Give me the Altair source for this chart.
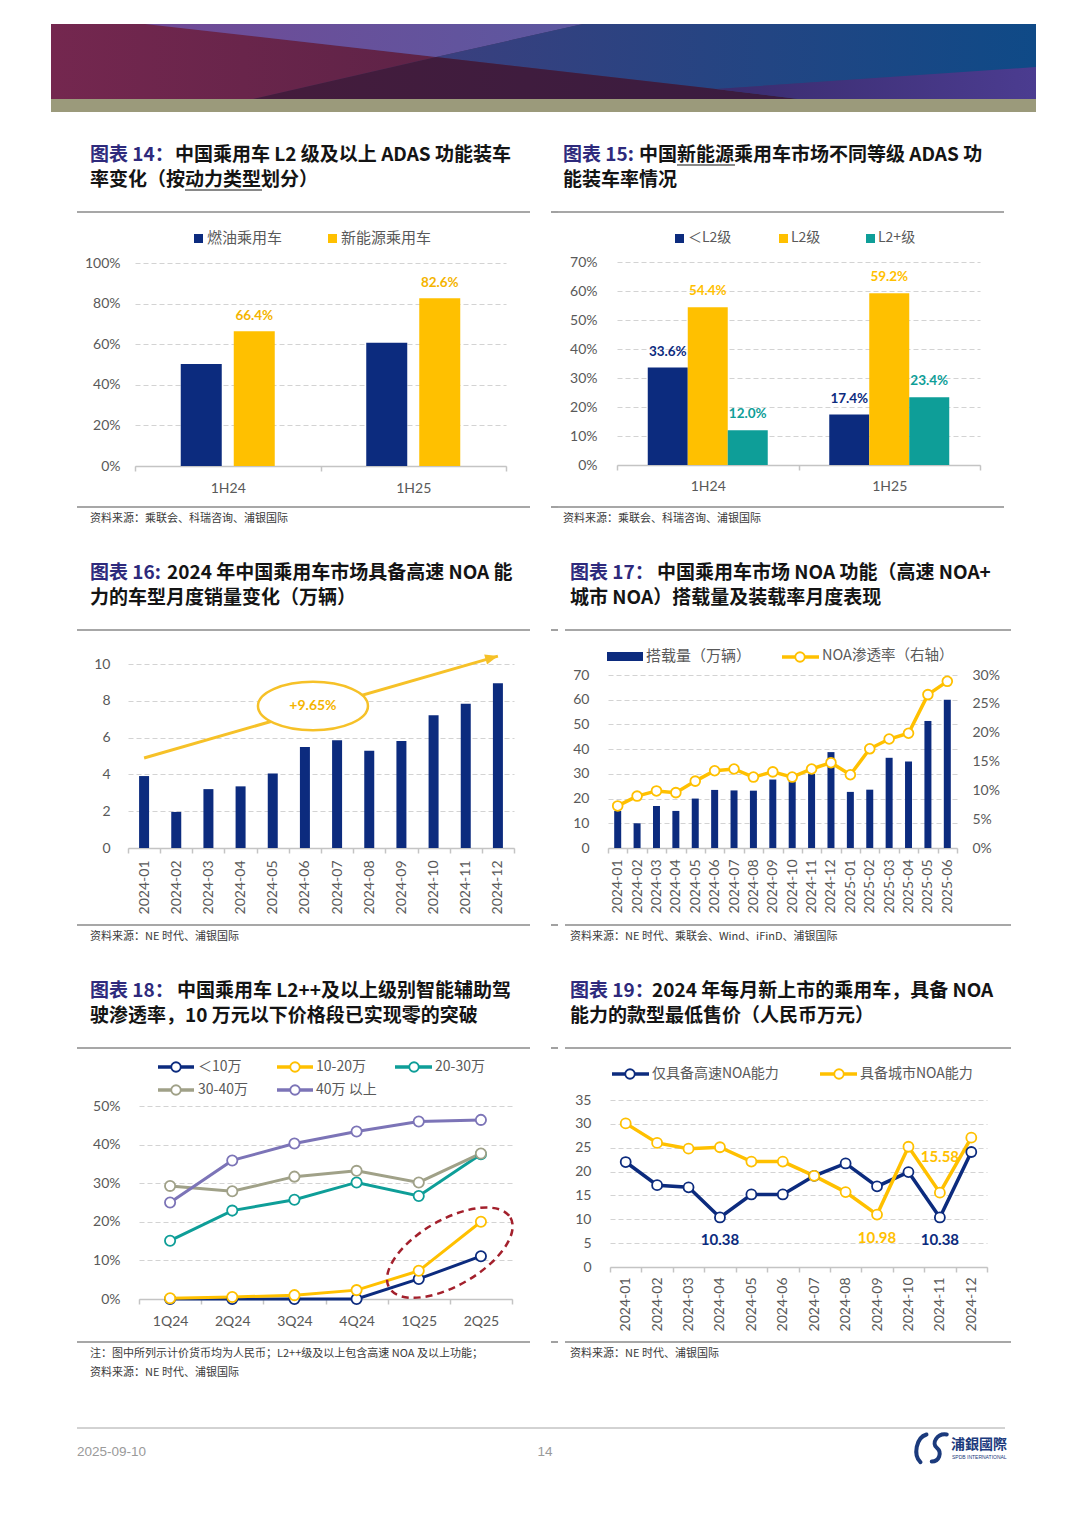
import altair as alt
import pandas as pd

# ------------------------------------------------------------------ data
halves = ["1H24", "1H25"]
powertrain_series = ["燃油乘用车", "新能源乘用车"]
ice_adas_rate = [0.502, 0.607]
nev_adas_rate = [0.664, 0.826]

adas_series = ["＜L2级", "L2级", "L2+级"]
below_l2_rate = [0.336, 0.174]
l2_rate = [0.544, 0.592]
l2plus_rate = [0.120, 0.234]

months_2024 = ["2024-01", "2024-02", "2024-03", "2024-04", "2024-05", "2024-06",
               "2024-07", "2024-08", "2024-09", "2024-10", "2024-11", "2024-12"]
highway_noa_sales = [3.91, 1.96, 3.20, 3.35, 4.05, 5.49, 5.85, 5.29, 5.82, 7.22, 7.84, 8.96]
trend_months = ["2024-01", "2024-12"]
trend_values = [4.89, 10.43]
growth_month = ["2024-06"]
growth_value = [7.72]
growth_label = ["+9.65%"]

months_2025h1 = ["2025-01", "2025-02", "2025-03", "2025-04", "2025-05", "2025-06"]
noa_months = months_2024 + months_2025h1
noa_volume = [15.0, 10.0, 17.0, 15.0, 20.0, 23.5, 23.3, 23.2, 27.7, 27.0, 30.0, 38.8,
              22.7, 23.6, 36.5, 35.0, 51.4, 60.0]
noa_rate = [0.073, 0.090, 0.099, 0.096, 0.116, 0.134, 0.137, 0.123, 0.132, 0.123, 0.137, 0.148,
            0.127, 0.172, 0.189, 0.199, 0.266, 0.289]

quarters = ["1Q24", "2Q24", "3Q24", "4Q24", "1Q25", "2Q25"]
price_bands = ["＜10万", "10-20万", "20-30万", "30-40万", "40万 以上"]
pen_under_10 = [0.0, 0.0, 0.0, 0.0, 0.052, 0.111]
pen_10_20 = [0.002, 0.005, 0.010, 0.023, 0.073, 0.200]
pen_20_30 = [0.151, 0.229, 0.257, 0.302, 0.267, 0.375]
pen_30_40 = [0.293, 0.279, 0.317, 0.332, 0.302, 0.377]
pen_over_40 = [0.250, 0.359, 0.403, 0.434, 0.460, 0.464]
highlight_quarter = ["2Q25"]
highlight_value = [0.12]

noa_series = ["仅具备高速NOA能力", "具备城市NOA能力"]
highway_only_price = [22.0, 17.15, 16.7, 10.38, 15.2, 15.2, 19.1, 21.7, 16.9, 19.9, 10.38, 24.1]
city_noa_price = [30.1, 26.0, 24.8, 25.1, 22.1, 22.1, 19.1, 15.7, 10.98, 25.2, 15.58, 27.1]
labels_below = [("仅具备高速NOA能力", "2024-04"), ("仅具备高速NOA能力", "2024-11"),
                ("具备城市NOA能力", "2024-09")]
labels_above = [("具备城市NOA能力", "2024-11")]

# ------------------------------------------------------------------ style
CN = "Noto Sans CJK SC"
NUM = "Lato, Noto Sans CJK SC"
NAVY = "#0C2B7E"
GOLD = "#FFC000"
GOLD_LINE = "#F6C128"
GOLD_TXT = "#F4B400"
TEAL = "#0E9E98"
OLIVE = "#A0A188"
PURPLE = "#7C74B7"
RED = "#A3202C"
GREY = "#595959"
GRID = "#D3D3D3"
AXIS = "#C4C4C4"
INDIGO = "#2E2A7C"
INK = "#141414"
SEP = "#8A8A8A"

X_SHIFT = -7                 # the page centres the 1048px-wide view
TOTAL_W = 1048
LEFT_W = 543                 # left column view width (covers page x 15..558)
RIGHT_START = 558            # page x where the right column view begins
RIGHT_ORIGIN = RIGHT_START + X_SHIFT
RIGHT_W = TOTAL_W - LEFT_W


def one():
    return alt.Chart(alt.Data(values=[{"k": 0}]))


def ellipse_path(ry):
    k = 0.5523
    return (f"M 1 0 C 1 {k*ry:.4f} {k:.4f} {ry} 0 {ry} "
            f"C {-k:.4f} {ry} -1 {k*ry:.4f} -1 0 "
            f"C -1 {-k*ry:.4f} {-k:.4f} {-ry} 0 {-ry} "
            f"C {k:.4f} {-ry} 1 {-k*ry:.4f} 1 0 Z")


ARROW = "M 0 0 L -1.6 -0.65 L -1.6 0.65 Z"


class Frame:
    """A view whose plot area covers its page box; the data area sits inside it."""

    def __init__(self, ox, y0, W, H, area=None):
        self.x0, self.y0, self.W, self.H = ox, y0, W, H
        self.area = area

    def px(self, x):
        return x + X_SHIFT - self.x0

    def py(self, y):
        return y - self.y0

    def xr(self):
        a = self.area
        return [self.px(a[0]), self.px(a[2])]

    def yr(self):
        a = self.area
        return [self.py(a[3]), self.py(a[1])]

    def off_left(self):
        return -self.px(self.area[0])

    def off_right(self):
        return -(self.W - self.px(self.area[2]))

    def off_bottom(self):
        return -(self.H - self.py(self.area[3]))

    def box_layer(self):
        return one().mark_rect(color="white", opacity=0).encode(
            x=alt.value(0), x2=alt.value(self.W), y=alt.value(0), y2=alt.value(self.H))

    def text(self, s, x, y, size=14, color=GREY, weight="normal", align="left", font=CN):
        return one().mark_text(text=s, align=align, baseline="middle", font=font,
                               fontSize=size, fontWeight=weight, color=color).encode(
            x=alt.value(self.px(x)), y=alt.value(self.py(y)))

    def hline(self, x1, x2, y, color, width):
        return one().mark_rule(color=color, strokeWidth=width).encode(
            x=alt.value(self.px(x1)), x2=alt.value(self.px(x2)), y=alt.value(self.py(y)))

    def swatch(self, x1, x2, y1, y2, color, opacity=1):
        return one().mark_rect(color=color, opacity=opacity).encode(
            x=alt.value(self.px(x1)), x2=alt.value(self.px(x2)),
            y=alt.value(self.py(y1)), y2=alt.value(self.py(y2)))

    def bar_line(self, x1, x2, y, color, width):
        return self.swatch(x1, x2, y - width / 2, y + width / 2, color)

    def marker(self, x, y, color, size=100):
        return one().mark_point(shape="circle", size=size, filled=True, fill="white",
                                stroke=color, strokeWidth=1.8, opacity=1).encode(
            x=alt.value(self.px(x)), y=alt.value(self.py(y)))

    def polygon(self, pts, fill, cx, cy, scale=50.0):
        path = "M " + " L ".join(f"{(X - cx) / scale:.4f} {(Y - cy) / scale:.4f}"
                                 for X, Y in pts) + " Z"
        return one().mark_point(shape=path, size=(2 * scale) ** 2, filled=True, fill=fill,
                                strokeWidth=0, opacity=1).encode(
            x=alt.value(self.px(cx)), y=alt.value(self.py(cy)))

    def line_key(self, x1, x2, cx, y, color):
        return [self.hline(x1, x2, y, color, 3.5), self.marker(cx, y, color, 90)]


def left_frame(y0, y1, area):
    return Frame(8, y0, LEFT_W, y1 - y0, area)


def right_frame(y0, y1, area):
    return Frame(RIGHT_ORIGIN, y0, RIGHT_W, y1 - y0, area)


def panel_frame(f, col, top_y, bottom_y, title_y, tag, rest, rest_x, line2, notes, underline=None):
    left = 90 if col == 0 else 563
    if col == 0:
        seps = [(77, 530, top_y), (77, 530, bottom_y),
                # the first pixels of the right-hand separators live in the left view
                (551, RIGHT_START, top_y), (551, RIGHT_START, bottom_y)]
    else:
        seps = [(RIGHT_START, 1004, top_y), (RIGHT_START, 1004, bottom_y)]
    layers = [f.box_layer()]
    layers += [f.bar_line(a, b, y, SEP, 1.6) for a, b, y in seps]
    layers += [f.text(tag, left, title_y, 19, INDIGO, "bold"),
               f.text(rest, rest_x, title_y, 19, INK, "bold"),
               f.text(line2, left, title_y + 25, 19, INK, "bold")]
    for i, note in enumerate(notes):
        layers.append(f.text(note, left, bottom_y + 12 + 18.5 * i, 11, "#3A3A3A"))
    if underline:
        layers.append(f.bar_line(underline[0], underline[1], underline[2], INK, 1.2))
    return layers


def x_axis(f, angle=0, pad=10):
    return alt.Axis(title=None, labelAngle=angle, labelPadding=pad, labelFont=NUM,
                    labelFontSize=14, labelColor=GREY, domainColor=AXIS, domainWidth=1.5,
                    tickColor=AXIS, tickWidth=1.5, tickSize=5, tickBand="extent",
                    grid=False, labelOverlap=False, offset=f.off_bottom())


def y_axis(f, values, fmt, pad, orient="left", grid=True):
    off = f.off_left() if orient == "left" else f.off_right()
    return alt.Axis(title=None, values=values, format=fmt, orient=orient, labelPadding=pad,
                    labelFont=NUM, labelFontSize=14, labelColor=GREY, domain=False,
                    ticks=False, grid=grid, gridColor=GRID, gridDash=[5, 3], gridWidth=1,
                    offset=off)


def band(f, domain):
    return alt.Scale(type="band", domain=domain, range=f.xr(), paddingInner=0, paddingOuter=0)


def lin(f, domain):
    return alt.Scale(domain=domain, range=f.yr(), nice=False)


def grad(c1, c2):
    return {"gradient": "linear", "x1": 0, "x2": 1, "y1": 0, "y2": 0,
            "stops": [{"offset": 0, "color": c1}, {"offset": 1, "color": c2}]}


# ------------------------------------------------------------------ header
fh = Frame(8, 8, TOTAL_W, 122)
HCX, HCY = 540, 69
header = alt.layer(
    fh.box_layer(),
    fh.swatch(51, 1036, 24, 99, grad("#70264F", "#15477F")),
    fh.polygon([(51, 24), (145, 24), (436, 57), (253, 99), (51, 99)],
               grad("#74274F", "#5E2347"), HCX, HCY),
    fh.polygon([(145, 24), (583, 24), (436, 57)], grad("#714A96", "#5C58A0"), HCX, HCY),
    fh.polygon([(583, 24), (1036, 24), (1036, 67), (716, 89), (436, 57)],
               grad("#3A3F7E", "#0F4A87"), HCX, HCY),
    fh.polygon([(436, 57), (716, 89), (799, 99), (253, 99)], grad("#441C3C", "#3A1C40"), HCX, HCY),
    fh.polygon([(716, 89), (1036, 67), (1036, 99), (799, 99)], grad("#3A2C6E", "#4B3C90"), HCX, HCY),
    fh.swatch(51, 1036, 99, 112, "#9B9A7B"),
).properties(width=fh.W, height=fh.H)

# ------------------------------------------------------------------ 图表14
f14 = left_frame(130, 545, (135, 263, 506, 466))
df14 = pd.DataFrame({
    "period": halves * 2,
    "series": [powertrain_series[0]] * 2 + [powertrain_series[1]] * 2,
    "value": ice_adas_rate + nev_adas_rate,
})
x14 = alt.X("period:N", scale=band(f14, halves), axis=x_axis(f14, pad=10))
xo14 = alt.XOffset("series:N", scale=alt.Scale(domain=powertrain_series,
                                               paddingInner=0.2264, paddingOuter=0.863))
y14 = alt.Y("value:Q", scale=lin(f14, [0, 1]),
            axis=y_axis(f14, [0, 0.2, 0.4, 0.6, 0.8, 1.0], ".0%", 15))
bars14 = alt.Chart(df14).mark_bar().encode(
    x=x14, xOffset=xo14, y=y14,
    color=alt.Color("series:N", scale=alt.Scale(domain=powertrain_series, range=[NAVY, GOLD]),
                    legend=None))
lab14 = alt.Chart(df14[df14.series == powertrain_series[1]]).mark_text(
    dy=-11, baseline="alphabetic", font=NUM, fontSize=13.5, fontWeight="bold", color=GOLD_TXT
).encode(x=x14, xOffset=xo14, y=y14, text=alt.Text("value:Q", format=".1%"))
legend14 = [f14.swatch(194, 203, 234, 243, NAVY), f14.text(powertrain_series[0], 207, 238, 15),
            f14.swatch(328, 337, 234, 243, GOLD), f14.text(powertrain_series[1], 341, 238, 15)]
p14 = alt.layer(
    *panel_frame(f14, 0, 212, 507, 155, "图表 14：", "中国乘用车 L2 级及以上 ADAS 功能装车", 175,
                 "率变化（按动力类型划分）", ["资料来源：乘联会、科瑞咨询、浦银国际"],
                 underline=(185, 262, 190)),
    bars14, lab14, *legend14
).properties(width=f14.W, height=f14.H)

# ------------------------------------------------------------------ 图表15
f15 = right_frame(130, 545, (617, 262, 980, 465))
df15 = pd.DataFrame({
    "period": halves * 3,
    "series": [s for s in adas_series for _ in halves],
    "value": below_l2_rate + l2_rate + l2plus_rate,
})
x15 = alt.X("period:N", scale=band(f15, halves), axis=x_axis(f15, pad=9))
xo15 = alt.XOffset("series:N", scale=alt.Scale(domain=adas_series, paddingInner=0,
                                               paddingOuter=0.769))
y15 = alt.Y("value:Q", scale=lin(f15, [0, 0.7]),
            axis=y_axis(f15, [0, 0.1, 0.2, 0.3, 0.4, 0.5, 0.6, 0.7], ".0%", 20))
c15 = alt.Color("series:N", scale=alt.Scale(domain=adas_series, range=[NAVY, GOLD, TEAL]),
                legend=None)
bars15 = alt.Chart(df15).mark_bar().encode(x=x15, xOffset=xo15, y=y15, color=c15)
lab15 = alt.Chart(df15).mark_text(dy=-12, baseline="alphabetic", font=NUM, fontSize=13.5,
                                  fontWeight="bold").encode(
    x=x15, xOffset=xo15, y=y15, color=c15, text=alt.Text("value:Q", format=".1%"))
legend15 = [f15.swatch(675, 684, 234, 243, NAVY), f15.text(adas_series[0], 688, 238, 14),
            f15.swatch(779, 788, 234, 243, GOLD), f15.text(adas_series[1], 791, 238, 14),
            f15.swatch(866, 875, 234, 243, TEAL), f15.text(adas_series[2], 878, 238, 14)]
p15 = alt.layer(
    *panel_frame(f15, 1, 212, 507, 155, "图表 15:", "中国新能源乘用车市场不同等级 ADAS 功", 639,
                 "能装车率情况", ["资料来源：乘联会、科瑞咨询、浦银国际"],
                 underline=(677, 735, 165)),
    bars15, lab15, *legend15
).properties(width=f15.W, height=f15.H)

# ------------------------------------------------------------------ 图表16
f16 = left_frame(545, 962, (128, 664, 514, 848))
df16 = pd.DataFrame({"month": months_2024, "value": highway_noa_sales})
trend16 = pd.DataFrame({"month": trend_months, "value": trend_values})
growth16 = pd.DataFrame({"month": growth_month, "value": growth_value, "label": growth_label})
ax16x = x_axis(f16, angle=270, pad=7)


def x16(**kw):
    return alt.X("month:N", scale=band(f16, months_2024), axis=ax16x, **kw)


y16 = alt.Y("value:Q", scale=lin(f16, [0, 10]), axis=y_axis(f16, [0, 2, 4, 6, 8, 10], "d", 18))
bars16 = alt.Chart(df16).mark_bar(size=10, color=NAVY).encode(x=x16(), y=y16)
trend_line16 = alt.Chart(trend16).mark_line(color=GOLD_LINE, strokeWidth=3).encode(x=x16(), y=y16)
arrow16 = alt.Chart(trend16.tail(1)).mark_point(
    shape=ARROW, size=256, angle=344, filled=True, fill=GOLD_LINE, strokeWidth=0, opacity=1
).encode(x=x16(), y=y16)
ell16 = alt.Chart(growth16).mark_point(
    shape=ellipse_path(0.44), size=12100, filled=True, fill="white", stroke=GOLD_LINE,
    strokeWidth=2.5, opacity=1).encode(x=x16(bandPosition=0.75), y=y16)
txt16 = alt.Chart(growth16).mark_text(font=NUM, fontSize=14, fontWeight="bold",
                                      color=GOLD_TXT).encode(
    x=x16(bandPosition=0.75), y=y16, text="label:N")
p16 = alt.layer(
    *panel_frame(f16, 0, 630, 925, 573, "图表 16:", "2024 年中国乘用车市场具备高速 NOA 能", 167,
                 "力的车型月度销量变化（万辆）", ["资料来源：NE 时代、浦银国际"]),
    bars16, trend_line16, arrow16, ell16, txt16
).properties(width=f16.W, height=f16.H)

# ------------------------------------------------------------------ 图表17
f17 = right_frame(545, 962, (601, 675, 950, 848))
df17 = pd.DataFrame({"month": noa_months, "volume": noa_volume, "rate": noa_rate,
                     "idx": list(range(len(noa_months)))})
x17 = alt.X("month:N", scale=band(f17, noa_months), axis=x_axis(f17, angle=270, pad=6))
bars17 = alt.Chart(df17).mark_bar(size=7, color=NAVY).encode(
    x=x17, y=alt.Y("volume:Q", scale=lin(f17, [0, 70]),
                   axis=y_axis(f17, list(range(0, 71, 10)), "d", 19)))
line17 = alt.Chart(df17).mark_line(
    color=GOLD, strokeWidth=3.5,
    point=alt.OverlayMarkDef(filled=False, fill="white", size=95, strokeWidth=1.8,
                             color=GOLD, opacity=1)
).encode(x=x17, y=alt.Y("rate:Q", scale=lin(f17, [0, 0.3]),
                        axis=y_axis(f17, [0, 0.05, 0.1, 0.15, 0.2, 0.25, 0.3], ".0%", 15,
                                    orient="right", grid=False)),
         order="idx:Q")
legend17 = [f17.swatch(600, 636, 652, 661, NAVY), f17.text("搭载量（万辆）", 639, 656, 15),
            *f17.line_key(775, 812, 793, 657, GOLD), f17.text("NOA渗透率（右轴）", 815, 656, 14.5)]
p17 = alt.layer(
    *panel_frame(f17, 1, 630, 925, 573, "图表 17：", "中国乘用车市场 NOA 功能（高速 NOA+", 650,
                 "城市 NOA）搭载量及装载率月度表现",
                 ["资料来源：NE 时代、乘联会、Wind、iFinD、浦银国际"]),
    *legend17, bars17, line17
).resolve_scale(y="independent").properties(width=f17.W, height=f17.H)

# ------------------------------------------------------------------ 图表18
f18 = left_frame(962, 1400, (139, 1106, 512, 1299))
pen_series = [pen_under_10, pen_10_20, pen_20_30, pen_30_40, pen_over_40]
df18 = pd.DataFrame({
    "quarter": quarters * len(price_bands),
    "band": [b for b in price_bands for _ in quarters],
    "value": [v for s in pen_series for v in s],
    "qi": list(range(len(quarters))) * len(price_bands),
})
hl18 = pd.DataFrame({"quarter": highlight_quarter, "value": highlight_value})
ax18x = x_axis(f18, pad=10)
y18 = alt.Y("value:Q", scale=lin(f18, [0, 0.5]),
            axis=y_axis(f18, [0, 0.1, 0.2, 0.3, 0.4, 0.5], ".0%", 19))
band_colors = [NAVY, GOLD, TEAL, OLIVE, PURPLE]
line18 = alt.Chart(df18).mark_line(
    strokeWidth=3,
    point=alt.OverlayMarkDef(filled=False, fill="white", size=105, strokeWidth=1.8, opacity=1)
).encode(
    x=alt.X("quarter:N", scale=band(f18, quarters), axis=ax18x), y=y18,
    color=alt.Color("band:N", scale=alt.Scale(domain=price_bands, range=band_colors), legend=None),
    order="qi:Q")
circle18 = alt.Chart(hl18).mark_point(
    shape=ellipse_path(0.47), size=19600, angle=330, filled=False, color=RED, stroke=RED,
    strokeWidth=2.5, strokeDash=[7, 5], opacity=1
).encode(x=alt.X("quarter:N", scale=band(f18, quarters), axis=ax18x, bandPosition=0), y=y18)
legend18 = []
for (x1, x2, cx, tx, yy), lab, col in zip(
        [(158, 194, 176, 198, 1067), (277, 313, 295, 316, 1067), (395, 432, 414, 435, 1067),
         (158, 194, 176, 198, 1090), (277, 313, 295, 316, 1090)], price_bands, band_colors):
    legend18 += f18.line_key(x1, x2, cx, yy, col)
    legend18.append(f18.text(lab, tx, yy, 14))
p18 = alt.layer(
    *panel_frame(f18, 0, 1048, 1342, 991, "图表 18：", "中国乘用车 L2++及以上级别智能辅助驾", 177,
                 "驶渗透率，10 万元以下价格段已实现零的突破",
                 ["注：图中所列示计价货币均为人民币；L2++级及以上包含高速 NOA 及以上功能；",
                  "资料来源：NE 时代、浦银国际"]),
    *legend18, line18, circle18
).properties(width=f18.W, height=f18.H)

# ------------------------------------------------------------------ 图表19
f19 = right_frame(962, 1400, (603, 1100, 980, 1267))
df19 = pd.DataFrame({
    "month": months_2024 * 2,
    "series": [s for s in noa_series for _ in months_2024],
    "value": highway_only_price + city_noa_price,
    "idx": list(range(len(months_2024))) * 2,
})
below19 = df19[[(s, m) in labels_below for s, m in zip(df19.series, df19.month)]]
above19 = df19[[(s, m) in labels_above for s, m in zip(df19.series, df19.month)]]
x19 = alt.X("month:N", scale=band(f19, months_2024), axis=x_axis(f19, angle=270, pad=5))
y19 = alt.Y("value:Q", scale=lin(f19, [0, 35]),
            axis=y_axis(f19, list(range(0, 36, 5)), "d", 19))
c19 = alt.Color("series:N", scale=alt.Scale(domain=noa_series, range=[NAVY, GOLD]), legend=None)
line19 = alt.Chart(df19).mark_line(
    strokeWidth=3.5,
    point=alt.OverlayMarkDef(filled=False, fill="white", size=100, strokeWidth=1.8, opacity=1)
).encode(x=x19, y=y19, color=c19, order="idx:Q")
lab19a = alt.Chart(below19).mark_text(dy=23, font=NUM, fontSize=15, fontWeight="bold").encode(
    x=x19, y=y19, color=c19, text=alt.Text("value:Q", format=".2f"))
lab19b = alt.Chart(above19).mark_text(dy=-36, font=NUM, fontSize=15, fontWeight="bold").encode(
    x=x19, y=y19, color=c19, text=alt.Text("value:Q", format=".2f"))
legend19 = [*f19.line_key(605, 642, 623, 1074, NAVY), f19.text(noa_series[0], 645, 1074, 14),
            *f19.line_key(813, 850, 832, 1074, GOLD), f19.text(noa_series[1], 853, 1074, 14)]
p19 = alt.layer(
    *panel_frame(f19, 1, 1048, 1342, 991, "图表 19：", "2024 年每月新上市的乘用车，具备 NOA", 645,
                 "能力的款型最低售价（人民币万元）", ["资料来源：NE 时代、浦银国际"]),
    *legend19, line19, lab19a, lab19b
).properties(width=f19.W, height=f19.H)

# ------------------------------------------------------------------ footer
ff = Frame(8, 1400, TOTAL_W, 90)
logo_left = "M -0.1 -0.9 C -0.8 -0.7 -1.0 0.5 -0.5 0.95"
logo_right = "M 0.85 -0.9 C 0.2 -1.0 -0.2 -0.3 0.2 0.0 C 0.55 0.3 0.35 0.9 -0.15 0.9"
footer = alt.layer(
    ff.box_layer(),
    ff.hline(77, 1005, 1428, "#A6A6A6", 1),
    ff.text("2025-09-10", 77, 1452, 13.5, "#9A9A9A", font="Liberation Sans"),
    ff.text("14", 545, 1452, 13.5, "#9A9A9A", align="center", font="Liberation Sans"),
    one().mark_point(shape=logo_left, size=900, filled=False, color="#1B3A7C", stroke="#1B3A7C",
                     strokeWidth=4, strokeCap="round", opacity=1).encode(
        x=alt.value(ff.px(928)), y=alt.value(ff.py(1448))),
    one().mark_point(shape=logo_right, size=900, filled=False, color="#1B3A7C", stroke="#1B3A7C",
                     strokeWidth=4, strokeCap="round", opacity=1).encode(
        x=alt.value(ff.px(934)), y=alt.value(ff.py(1448))),
    ff.text("浦銀國際", 951, 1445, 14, "#1B3A7C", "bold", font="Noto Sans CJK TC"),
    ff.text("SPDB INTERNATIONAL", 952, 1457, 5, "#1B3A7C", font="Liberation Sans"),
).properties(width=ff.W, height=ff.H)

# ------------------------------------------------------------------ page
res = dict(color="independent", xOffset="independent")
row1 = alt.hconcat(p14, p15, spacing=0).resolve_scale(**res)
row2 = alt.hconcat(p16, p17, spacing=0).resolve_scale(**res)
row3 = alt.hconcat(p18, p19, spacing=0).resolve_scale(**res)

chart = alt.vconcat(header, row1, row2, row3, footer, spacing=0).resolve_scale(**res).properties(
    padding=0, background="white"
).configure_view(strokeWidth=0, stroke="transparent")

chart.save("out.html", embed_options={"renderer": "svg", "actions": False})
